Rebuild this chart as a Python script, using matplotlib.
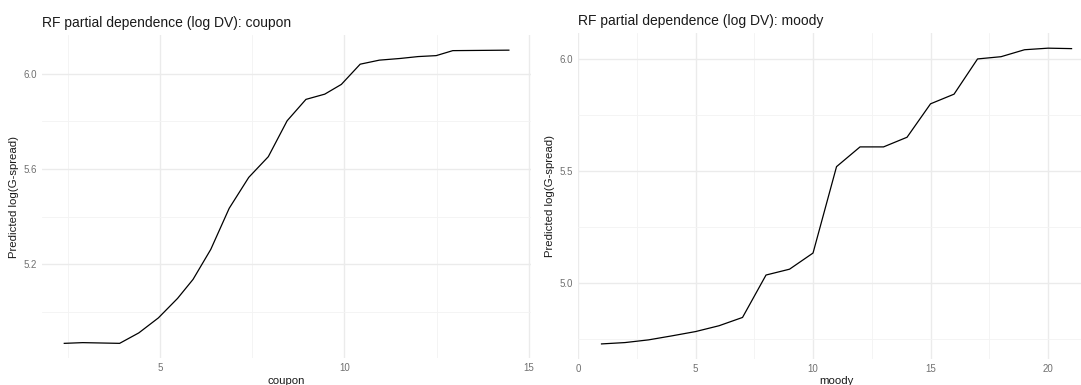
import numpy as np
import matplotlib.pyplot as plt
from matplotlib.ticker import MultipleLocator

plt.rcParams['font.family'] = ['Liberation Sans', 'DejaVu Sans']

# partial dependence: coupon
coupon_x = [2.41, 2.91, 3.91, 4.43, 4.96, 5.48, 5.90, 6.38, 6.88, 7.41, 7.94,
            8.45, 8.96, 9.47, 9.92, 10.43, 10.95, 11.51, 12.00, 12.49, 12.94, 14.46]
coupon_y = [4.867, 4.870, 4.867, 4.911, 4.974, 5.056, 5.136, 5.262, 5.435, 5.565, 5.652,
            5.803, 5.893, 5.915, 5.956, 6.041, 6.058, 6.065, 6.073, 6.077, 6.098, 6.100]

# partial dependence: moody
moody_x = list(range(1, 22))
moody_y = [4.730, 4.736, 4.748, 4.766, 4.785, 4.811, 4.848, 5.037, 5.063, 5.135, 5.520,
           5.608, 5.608, 5.651, 5.800, 5.843, 6.000, 6.010, 6.041, 6.048, 6.046]

def expand(v, mult=0.05):
    lo, hi = min(v), max(v)
    d = (hi - lo) * mult
    return lo - d, hi + d

def pd_panel(ax, x, y, name, xmaj, ymaj):
    ax.plot(x, y, color='black', lw=0.9)
    ax.set_xlim(*expand(x))
    ax.set_ylim(*expand(y))
    ax.xaxis.set_major_locator(MultipleLocator(xmaj))
    ax.xaxis.set_minor_locator(MultipleLocator(xmaj / 2))
    ax.yaxis.set_major_locator(MultipleLocator(ymaj))
    ax.yaxis.set_minor_locator(MultipleLocator(ymaj / 2))
    ax.yaxis.set_major_formatter(plt.FormatStrFormatter('%.1f'))
    ax.grid(which='major', color='#ebebeb', lw=1.0)
    ax.grid(which='minor', color='#f3f3f3', lw=0.6)
    ax.set_axisbelow(True)
    for s in ax.spines.values():
        s.set_visible(False)
    ax.tick_params(which='both', length=0, labelsize=7, labelcolor='#707070', pad=3.5)
    ax.set_title('RF partial dependence (log DV): ' + name, loc='left', fontsize=10,
                 color='#1a1a1a', pad=6)
    ax.set_xlabel(name, fontsize=8.2, color='#1a1a1a', labelpad=2)
    ax.set_ylabel('Predicted log(G-spread)', fontsize=8.2, color='#1a1a1a', labelpad=3.5)

fig = plt.figure(figsize=(10.81, 3.85), dpi=100)
ax1 = fig.add_axes([0.0389, 0.0701, 0.4524, 0.8377])
ax2 = fig.add_axes([0.5347, 0.0683, 0.4783, 0.845])

pd_panel(ax1, coupon_x, coupon_y, 'coupon', 5, 0.4)
ax1.set_yticks([5.2, 5.6, 6.0])
pd_panel(ax2, moody_x, moody_y, 'moody', 5, 0.5)

fig.savefig('out.png', dpi=100)
